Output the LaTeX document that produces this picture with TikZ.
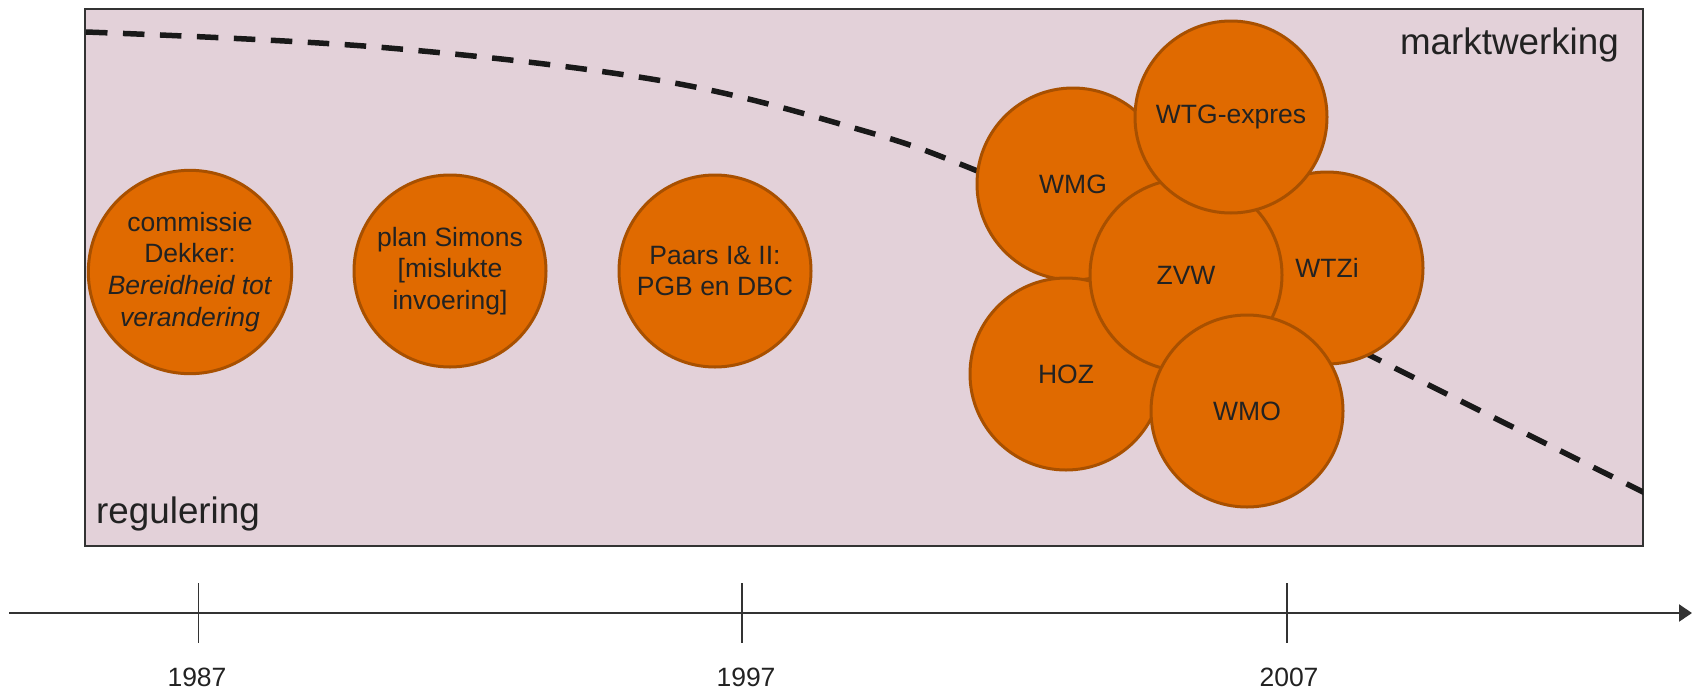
\documentclass[tikz,border=0pt]{standalone}
\usepackage{fontspec}
\setmainfont{Liberation Sans}
\usetikzlibrary{arrows.meta}
\definecolor{boxfill}{HTML}{E3D1D9}
\definecolor{circfill}{HTML}{E06A00}
\definecolor{circline}{HTML}{A85000}
\definecolor{darkline}{HTML}{333333}
\definecolor{txt}{HTML}{222222}
\begin{document}
\begin{tikzpicture}[x=1pt,y=-1pt,
  law/.style={circle, fill=circfill, draw=circline, line width=3pt, minimum size=192pt, inner sep=0pt, align=center, font=\fontsize{26.5}{31.8}\selectfont, text=txt},
  bigtext/.style={font=\fontsize{36.8}{44}\selectfont, text=txt, inner sep=0pt},
  yeartext/.style={font=\fontsize{26.5}{31.8}\selectfont, text=txt, inner sep=0pt},
  ticklinestyle/.style={draw=darkline, line width=1.5pt},
  dashline/.style={draw=black!90, line width=5.5pt, dash pattern=on 21.5pt off 15.5pt},
  timeline/.style={draw=darkline, line width=2.2pt, -{Triangle[length=13pt,width=17pt]}}
]
\useasboundingbox (0,0) rectangle (1692,691);
% background frame
\draw[fill=boxfill, draw=darkline, line width=2pt] (85,9) rectangle (1643,546);
% dashed boundary line
\begin{scope}
\clip (85,9) rectangle (1643,546);
\draw[dashline] plot[smooth, tension=0.6] coordinates {(86,32) (383,47.5) (663,81) (861,130) (980,172) (1180,258) (1377,359) (1645,493)};
\end{scope}
% labels of the regions
\node[bigtext, anchor=base east] (markt) at (1619,54) {marktwerking};
\node[bigtext, anchor=base west] (regul) at (96,523) {regulering};
% early circles
\node[law] (dekker) at (190,272) {commissie\\Dekker:\\\textit{Bereidheid tot}\\\textit{verandering}};
\node[law] (simons) at (450,271) {plan Simons\\{[mislukte}\\invoering]};
\node[law] (paars) at (715,271) {Paars I\& II:\\PGB en DBC};
% cluster
\node[law] (wmg) at (1073,184) {WMG};
\node[law] (hoz) at (1066,374) {HOZ};
\node[law] (wtzi) at (1327,268) {WTZi};
\node[law] (zvw) at (1186,275) {ZVW};
\node[law] (wtg) at (1231,117) {WTG-expres};
\node[law] (wmo) at (1247,411) {WMO};
% timeline
\coordinate (tlstart) at (9,613);
\coordinate (tlend) at (1692,613);
\draw[timeline] (tlstart) -- (tlend);
\coordinate (t1a) at (198.5,583); \coordinate (t1b) at (198.5,643);
\coordinate (t2a) at (742,583); \coordinate (t2b) at (742,643);
\coordinate (t3a) at (1287,583); \coordinate (t3b) at (1287,643);
\draw[ticklinestyle] (t1a) -- (t1b);
\draw[ticklinestyle] (t2a) -- (t2b);
\draw[ticklinestyle] (t3a) -- (t3b);
\node[yeartext, anchor=base] (y1987) at (197,686) {1987};
\node[yeartext, anchor=base] (y1997) at (746,686) {1997};
\node[yeartext, anchor=base] (y2007) at (1289,686) {2007};
\end{tikzpicture}
\end{document}
